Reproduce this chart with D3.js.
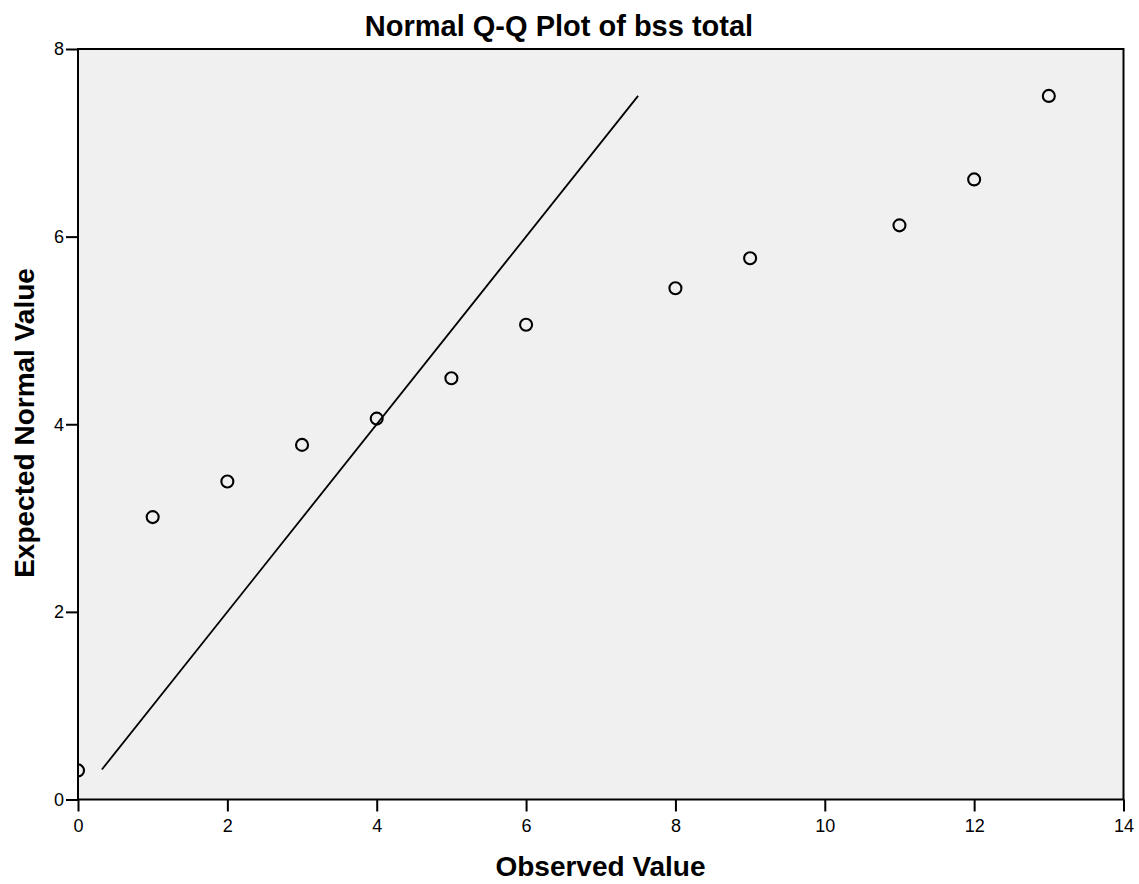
<!DOCTYPE html>
<html>
<head>
<meta charset="utf-8">
<script src="https://cdn.jsdelivr.net/npm/d3@7"></script>
<style>
  html, body { margin: 0; padding: 0; background: #fff; }
  svg { display: block; font-family: Arial, "Liberation Sans", sans-serif; }
</style>
</head>
<body>
<svg id="chart" width="1139" height="884"></svg>
<script>
// Observed values of bss total and their expected normal values
const observed = [0, 1, 2, 3, 4, 5, 6, 8, 9, 11, 12, 13];
const expected = [0.31, 3.01, 3.39, 3.78, 4.06, 4.49, 5.06, 5.45, 5.77, 6.12, 6.61, 7.50];

// Reference line y = x, spanning the range of expected values
const refLine = [0.32, 7.50];

const xTicks = [0, 2, 4, 6, 8, 10, 12, 14];
const yTicks = [0, 2, 4, 6, 8];

const title = "Normal Q-Q Plot of bss total";
const xTitle = "Observed Value";
const yTitle = "Expected Normal Value";

const svg = d3.select("#chart");
const m = { left: 78, top: 49, right: 1123.5, bottom: 799.5 };

const x = d3.scaleLinear().domain([0, 14]).range([m.left, m.right]);
const y = d3.scaleLinear().domain([0, 8]).range([m.bottom, m.top]);

// plot background
svg.append("rect")
  .attr("x", m.left).attr("y", m.top)
  .attr("width", m.right - m.left).attr("height", m.bottom - m.top)
  .attr("fill", "#f0f0f0");

svg.append("clipPath").attr("id", "plotClip")
  .append("rect")
  .attr("x", m.left).attr("y", m.top)
  .attr("width", m.right - m.left).attr("height", m.bottom - m.top);

// reference line
svg.append("line")
  .attr("x1", x(refLine[0])).attr("y1", y(refLine[0]))
  .attr("x2", x(refLine[1])).attr("y2", y(refLine[1]))
  .attr("stroke", "#000").attr("stroke-width", 1.8);

// points
svg.append("g").attr("clip-path", "url(#plotClip)")
  .selectAll("circle")
  .data(observed.map((v, i) => [v, expected[i]]))
  .join("circle")
  .attr("cx", d => x(d[0]))
  .attr("cy", d => y(d[1]))
  .attr("r", 6)
  .attr("fill", "none")
  .attr("stroke", "#000")
  .attr("stroke-width", 2.1);

// frame
svg.append("rect")
  .attr("x", m.left).attr("y", m.top)
  .attr("width", m.right - m.left).attr("height", m.bottom - m.top)
  .attr("fill", "none").attr("stroke", "#000").attr("stroke-width", 2);

// axes
const xAxis = d3.axisBottom(x).tickValues(xTicks).tickSize(12).tickPadding(8).tickFormat(d3.format("d"));
const yAxis = d3.axisLeft(y).tickValues(yTicks).tickSize(12).tickPadding(2).tickFormat(d3.format("d"));

const gx = svg.append("g").attr("transform", `translate(0,${m.bottom})`).call(xAxis);
const gy = svg.append("g").attr("transform", `translate(${m.left},0)`).call(yAxis);

[gx, gy].forEach(g => {
  g.select(".domain").remove();
  g.selectAll(".tick line").attr("stroke", "#000").attr("stroke-width", 2);
  g.selectAll(".tick text")
    .attr("fill", "#000")
    .style("font-size", "18px")
    .style("font-family", "Arial, 'Liberation Sans', sans-serif");
});

// titles
svg.append("text")
  .attr("x", 559).attr("y", 36)
  .attr("text-anchor", "middle")
  .style("font-size", "29px").style("font-weight", "bold")
  .text(title);

svg.append("text")
  .attr("x", 600.5).attr("y", 876)
  .attr("text-anchor", "middle")
  .style("font-size", "28px").style("font-weight", "bold")
  .text(xTitle);

svg.append("text")
  .attr("transform", "translate(34,423) rotate(-90)")
  .attr("text-anchor", "middle")
  .style("font-size", "28px").style("font-weight", "bold")
  .text(yTitle);
</script>
</body>
</html>
